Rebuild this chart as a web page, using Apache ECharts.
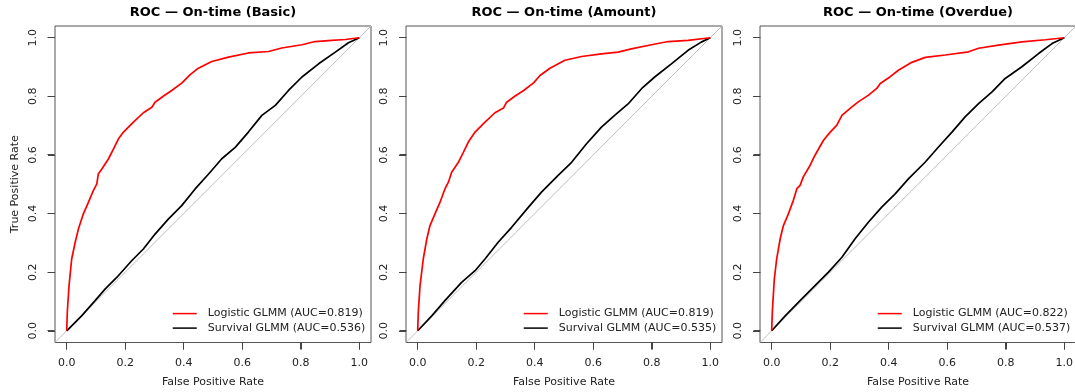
<!DOCTYPE html>
<html>
<head>
<meta charset="utf-8">
<script src="https://cdn.jsdelivr.net/npm/echarts@6/dist/echarts.min.js"></script>
<style>
html,body{margin:0;padding:0;background:#fff;}
#chart{width:1075px;height:392px;}
</style>
</head>
<body>
<div id="chart"></div>
<script>
// ---- data (FPR, TPR) ----
const panelTitles = ['ROC \u2014 On-time (Basic)', 'ROC \u2014 On-time (Amount)', 'ROC \u2014 On-time (Overdue)'];
const logisticNames = ['Logistic GLMM (AUC=0.819)', 'Logistic GLMM (AUC=0.819)', 'Logistic GLMM (AUC=0.822)'];
const survivalNames = ['Survival GLMM (AUC=0.536)', 'Survival GLMM (AUC=0.535)', 'Survival GLMM (AUC=0.537)'];
const xAxisTitle = 'False Positive Rate';
const yAxisTitle = 'True Positive Rate';
const tickValues = [0, 0.2, 0.4, 0.6, 0.8, 1.0];

const basicLogistic = [[0,0],[0.002,0.063],[0.008,0.154],[0.017,0.245],[0.029,0.302],[0.040,0.347],[0.057,0.399],[0.074,0.438],[0.091,0.478],[0.103,0.501],[0.108,0.535],[0.120,0.552],[0.143,0.587],[0.160,0.621],[0.177,0.655],[0.194,0.678],[0.228,0.712],[0.262,0.744],[0.291,0.763],[0.302,0.780],[0.331,0.801],[0.359,0.820],[0.394,0.846],[0.422,0.874],[0.450,0.896],[0.496,0.919],[0.553,0.934],[0.621,0.948],[0.690,0.953],[0.735,0.965],[0.804,0.976],[0.849,0.987],[0.906,0.991],[0.952,0.994],[1,1]];
const basicSurvival = [[0,0],[0.051,0.051],[0.097,0.103],[0.131,0.142],[0.171,0.182],[0.222,0.239],[0.262,0.279],[0.302,0.330],[0.348,0.382],[0.393,0.427],[0.439,0.484],[0.485,0.535],[0.530,0.587],[0.576,0.626],[0.621,0.678],[0.667,0.735],[0.713,0.769],[0.758,0.820],[0.804,0.866],[0.861,0.911],[0.918,0.951],[0.963,0.983],[1,1]];

const amountLogistic = [[0,0],[0.002,0.063],[0.008,0.154],[0.019,0.245],[0.031,0.313],[0.042,0.359],[0.059,0.399],[0.076,0.438],[0.093,0.484],[0.105,0.507],[0.116,0.541],[0.139,0.575],[0.156,0.609],[0.173,0.644],[0.196,0.678],[0.230,0.712],[0.264,0.744],[0.293,0.760],[0.304,0.780],[0.333,0.801],[0.362,0.820],[0.396,0.846],[0.418,0.871],[0.452,0.896],[0.503,0.923],[0.560,0.936],[0.628,0.945],[0.685,0.951],[0.730,0.962],[0.799,0.976],[0.856,0.987],[0.924,0.991],[1,1]];
const amountSurvival = [[0,0],[0.048,0.051],[0.093,0.103],[0.150,0.165],[0.196,0.205],[0.230,0.245],[0.275,0.302],[0.321,0.353],[0.378,0.421],[0.423,0.473],[0.480,0.530],[0.526,0.575],[0.577,0.638],[0.628,0.695],[0.673,0.735],[0.719,0.774],[0.765,0.826],[0.810,0.866],[0.867,0.911],[0.924,0.957],[0.969,0.985],[1,1]];

const overdueLogistic = [[0,0],[0.002,0.063],[0.009,0.177],[0.017,0.245],[0.029,0.314],[0.040,0.359],[0.057,0.399],[0.074,0.445],[0.086,0.485],[0.097,0.496],[0.108,0.525],[0.131,0.564],[0.148,0.599],[0.177,0.650],[0.200,0.678],[0.222,0.701],[0.240,0.735],[0.274,0.764],[0.296,0.781],[0.331,0.804],[0.359,0.827],[0.371,0.844],[0.405,0.867],[0.433,0.889],[0.479,0.916],[0.525,0.933],[0.593,0.941],[0.673,0.952],[0.707,0.964],[0.775,0.975],[0.855,0.986],[0.935,0.993],[1,1]];
const overdueSurvival = [[0,0],[0.046,0.051],[0.097,0.103],[0.148,0.154],[0.194,0.200],[0.240,0.251],[0.285,0.314],[0.331,0.371],[0.376,0.422],[0.422,0.467],[0.468,0.519],[0.525,0.576],[0.570,0.627],[0.616,0.678],[0.661,0.730],[0.707,0.775],[0.753,0.815],[0.798,0.861],[0.855,0.901],[0.912,0.946],[0.958,0.980],[1,1]];

const logisticData = [basicLogistic, amountLogistic, overdueLogistic];
const survivalData = [basicSurvival, amountSurvival, overdueSurvival];
const diagonal = [[-0.04,-0.04],[1.04,1.04]];

// ---- layout ----
const FONT = 'DejaVu Sans';
const PAD = 0.04;                 // R's 4% axis extension
const TICK_LEN = 7;
const gridLefts = [55, 406, 760];
const gridTop = 26, gridW = 316, gridH = 316.5;
const innerW = gridW / (1 + 2 * PAD), innerH = gridH / (1 + 2 * PAD);
const offX = gridW * PAD / (1 + 2 * PAD), offY = gridH * PAD / (1 + 2 * PAD);
const legendLefts = [172, 523, 877];
const TXT = {fontFamily: FONT, fontSize: 11, color: '#222'};
const TICK_STYLE = {color: '#444', width: 1};

const chart = echarts.init(document.getElementById('chart'), null, {renderer: 'canvas'});
const option = {
  animation: false,
  backgroundColor: '#ffffff',
  title: [], grid: [], xAxis: [], yAxis: [], series: [], legend: []
};
const hiddenAxis = (g) => ({gridIndex: g, type: 'value', min: 0, max: 1, show: false});
const crisp = (v) => Math.round(v - 0.5) + 0.5;

for (let i = 0; i < 3; i++) {
  option.title.push({
    text: panelTitles[i], left: gridLefts[i] + gridW / 2, top: 6, textAlign: 'center', padding: 0,
    textStyle: {fontFamily: FONT, fontSize: 13, fontWeight: 'bold', color: '#000'}
  });
  // data grid (box)
  option.grid.push({left: gridLefts[i], top: gridTop, width: gridW, height: gridH, show: true,
    containLabel: false, outerBoundsMode: 'none',
    borderColor: '#555', borderWidth: 1, backgroundColor: 'rgba(0,0,0,0)'});
  option.xAxis.push({gridIndex: i, type: 'value', min: -PAD, max: 1 + PAD, show: false});
  option.yAxis.push({gridIndex: i, type: 'value', min: -PAD, max: 1 + PAD, show: false});
  option.series.push({
    type: 'line', xAxisIndex: i, yAxisIndex: i, data: diagonal, symbol: 'none', silent: true, z: 1,
    lineStyle: {color: '#bebebe', width: 1}
  });
  option.series.push({
    name: survivalNames[i], type: 'line', xAxisIndex: i, yAxisIndex: i, data: survivalData[i],
    symbol: 'none', z: 2, color: '#000000', lineStyle: {color: '#000000', width: 1.7}
  });
  option.series.push({
    name: logisticNames[i], type: 'line', xAxisIndex: i, yAxisIndex: i, data: logisticData[i],
    symbol: 'none', z: 3, color: '#ff0000', lineStyle: {color: '#ff0000', width: 1.7}
  });
  // tick marks, positioned through the data axes
  option.series.push({
    type: 'custom', xAxisIndex: i, yAxisIndex: i, silent: true, clip: false, z: 5,
    data: tickValues.map(v => [v, v]),
    encode: {x: 0, y: 1},
    renderItem: function (params, api) {
      const v = api.value(0);
      const px = api.coord([v, -PAD]);
      const py = api.coord([-PAD, v]);
      const x = crisp(px[0]), y = crisp(py[1]);
      const yb = crisp(px[1]), xl = crisp(py[0]);
      return {type: 'group', children: [
        {type: 'line', shape: {x1: x, y1: yb, x2: x, y2: yb + TICK_LEN}, style: {stroke: TICK_STYLE.color, lineWidth: 1}},
        {type: 'line', shape: {x1: xl, y1: y, x2: xl - TICK_LEN, y2: y}, style: {stroke: TICK_STYLE.color, lineWidth: 1}}
      ]};
    }
  });
  option.legend.push({
    data: [logisticNames[i], survivalNames[i]], orient: 'vertical', left: legendLefts[i], top: 308,
    padding: 0, itemWidth: 24, itemHeight: 14, itemGap: 3.3, selectedMode: false,
    itemStyle: {opacity: 0},
    lineStyle: {width: 1.5},
    textStyle: Object.assign({padding: [0, 0, 0, 6]}, TXT)
  });
}

// label grids: the 0..1 span of each axis, aligned to the box edges
for (let i = 0; i < 3; i++) {
  const gx = option.grid.length;
  option.grid.push({left: gridLefts[i] + offX, top: gridTop, width: innerW, height: gridH,
    containLabel: false, outerBoundsMode: 'none'});
  option.xAxis.push({
    gridIndex: gx, type: 'value', min: 0, max: 1, interval: 0.2, position: 'bottom',
    axisLine: {show: false, onZero: false}, splitLine: {show: false},
    axisTick: {show: true, length: TICK_LEN, lineStyle: TICK_STYLE},
    axisLabel: Object.assign({formatter: v => v.toFixed(1), margin: 15, showMinLabel: true, showMaxLabel: true}, TXT),
    name: xAxisTitle, nameLocation: 'middle', nameGap: 34, nameTextStyle: TXT
  });
  option.yAxis.push(hiddenAxis(gx));
  const gy = option.grid.length;
  option.grid.push({left: gridLefts[i], top: gridTop + offY, width: gridW, height: innerH,
    containLabel: false, outerBoundsMode: 'none'});
  option.xAxis.push(hiddenAxis(gy));
  option.yAxis.push({
    gridIndex: gy, type: 'value', min: 0, max: 1, interval: 0.2, position: 'left',
    axisLine: {show: false, onZero: false}, splitLine: {show: false},
    axisTick: {show: true, length: TICK_LEN, lineStyle: TICK_STYLE},
    axisLabel: Object.assign({formatter: v => v.toFixed(1), rotate: 90, margin: 16, showMinLabel: true, showMaxLabel: true}, TXT),
    name: i === 0 ? yAxisTitle : '', nameLocation: 'middle', nameGap: 34, nameTextStyle: TXT
  });
}

chart.setOption(option);
</script>
</body>
</html>
